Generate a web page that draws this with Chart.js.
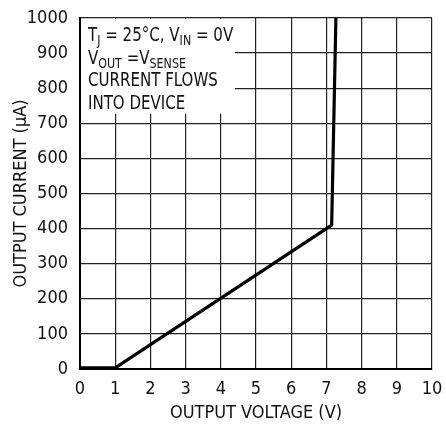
<!DOCTYPE html>
<html>
<head>
<meta charset="utf-8">
<script src="https://cdn.jsdelivr.net/npm/chart.js@4/dist/chart.umd.min.js"></script>
<style>
  html, body { margin: 0; padding: 0; background: #fff; }
  #wrap { width: 446px; height: 424px; }
</style>
</head>
<body>
<div id="wrap"><canvas id="myChart" width="446" height="424"></canvas></div>
<script>
// curve
var voltage = [0, 1, 7.0, 7.15, 7.27];
var current = [3, 3, 400, 410, 1000];

var xTicks = [0, 1, 2, 3, 4, 5, 6, 7, 8, 9, 10];
var yTicks = [0, 100, 200, 300, 400, 500, 600, 700, 800, 900, 1000];

// note box, in data units (corners) and its lines
var noteBox = { x0: 0, x1: 4.4, y0: 1000, y1: 730 };
var noteLines = [
	[["T", 0], ["J", 1], [" = 25\u00B0C, V", 0], ["IN", 1], [" = 0V", 0]],
	[["V", 0], ["OUT", 1], [" =V", 0], ["SENSE", 1]],
	[["CURRENT FLOWS", 0]],
	[["INTO DEVICE", 0]]
];

var FONT = "'Liberation Sans Narrow', 'DejaVu Sans Condensed', 'Arial Narrow', sans-serif";

var notePlugin = {
	id: 'note',
	beforeDatasetsDraw: function(chart) {
		var ctx = chart.ctx;
		var xs = chart.scales.x, ys = chart.scales.y;
		var left = xs.getPixelForValue(noteBox.x0);
		var right = xs.getPixelForValue(noteBox.x1);
		var top = ys.getPixelForValue(noteBox.y0);
		var bottom = ys.getPixelForValue(noteBox.y1);
		ctx.save();
		ctx.fillStyle = '#fff';
		ctx.fillRect(left + 1, top + 1, right - left - 1, bottom - top);
		ctx.fillStyle = '#111';
		ctx.textBaseline = 'alphabetic';
		ctx.textAlign = 'left';
		for (var i = 0; i < noteLines.length; i++) {
			var x = 0;
			var y = top + 23 + i * 22.5;
			ctx.save();
			ctx.translate(left + 8, y);
			ctx.scale(0.88, 1);
			for (var j = 0; j < noteLines[i].length; j++) {
				var part = noteLines[i][j];
				if (part[1]) {
					ctx.font = '14px ' + FONT;
					ctx.fillText(part[0], x, 4);
				} else {
					ctx.font = '19px ' + FONT;
					ctx.fillText(part[0], x, 0);
				}
				x += ctx.measureText(part[0]).width;
			}
			ctx.restore();
		}
		ctx.restore();
	}
};

Chart.defaults.font.family = FONT;
Chart.defaults.font.size = 18;
Chart.defaults.color = '#111';

new Chart("myChart", {
	type: "scatter",
	data: {
		datasets: [{
			data: voltage.map(function(v, i) { return { x: v, y: current[i] }; }),
			showLine: true,
			borderColor: '#000',
			borderWidth: 3.2,
			pointRadius: 0,
			tension: 0,
			borderJoinStyle: 'round',
			clip: false
		}]
	},
	options: {
		responsive: false,
		animation: false,
		layout: { padding: 0 },
		plugins: {
			legend: { display: false },
			tooltip: { enabled: false }
		},
		scales: {
			x: {
				type: 'linear',
				min: 0, max: 10,
				afterBuildTicks: function(s) { s.ticks = xTicks.map(function(v) { return { value: v }; }); },
				afterFit: function(s) { s.height = 55; s.paddingLeft = 0; s.paddingRight = 14; },
				grid: { color: '#222', lineWidth: 1.2, drawTicks: false },
				border: { color: '#000', width: 2 },
				ticks: { padding: 10, maxRotation: 0, autoSkip: false, callback: function(v) { return String(v); } },
				title: { display: true, text: 'OUTPUT VOLTAGE (V)', padding: { top: 0, bottom: 0 } }
			},
			y: {
				type: 'linear',
				min: 0, max: 1000,
				afterBuildTicks: function(s) { s.ticks = yTicks.map(function(v) { return { value: v }; }); },
				afterFit: function(s) { s.width = 80; s.paddingTop = 18; s.paddingBottom = 0; },
				grid: { color: '#222', lineWidth: 1.2, drawTicks: false },
				border: { color: '#000', width: 2 },
				ticks: { padding: 12, autoSkip: false, callback: function(v) { return String(v); } },
				title: { display: true, text: 'OUTPUT CURRENT (\u00B5A)', padding: { top: 11, bottom: 0 } }
			}
		}
	},
	plugins: [notePlugin]
});
</script>
</body>
</html>
